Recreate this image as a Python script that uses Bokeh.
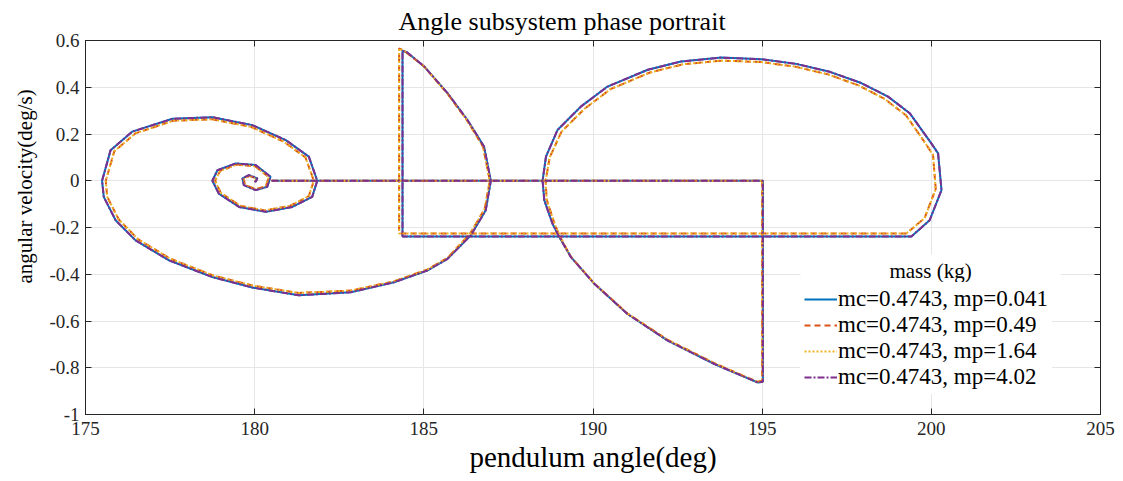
from bokeh.plotting import figure
from bokeh.models import (Range1d, LinearAxis, FixedTicker, Legend, LegendItem,
                          Title, CustomJSTickFormatter, Label, BoxAnnotation)
from bokeh.embed import file_html
from bokeh.resources import INLINE

# ---------------- data ----------------
x_ticks = [175, 180, 185, 190, 195, 200, 205]
x_tick_labels = ["175", "180", "185", "190", "195", "200", "205"]
y_ticks = [0.6, 0.4, 0.2, 0.0, -0.2, -0.4, -0.6, -0.8, -1.0]
y_tick_labels = ["0.6", "0.4", "0.2", "0", "-0.2", "-0.4", "-0.6", "-0.8", "-1"]

# trajectory for light / heavy pendulum groups (angle in deg, angular velocity in deg/s)
angle_a = [180.5, 195.02, 195.02, 194.87, 193.59, 192.21, 191.02, 190.04, 189.35, 189.0,
           188.8, 188.56, 188.51, 188.61, 188.95, 189.64, 190.43, 191.62, 192.6, 193.79,
           194.97, 196.0, 197.0, 197.93, 198.72, 199.36, 200.0, 200.2, 200.3, 199.95,
           199.41, 184.37, 184.37, 184.5, 185.01, 185.7, 186.29, 186.78, 186.98, 186.83,
           186.39, 185.7, 185.1, 184.12, 182.84, 181.3, 179.93, 178.75, 177.46, 176.48,
           175.89, 175.54, 175.49, 175.74, 176.38, 177.57, 178.75, 179.93, 180.92, 181.6,
           181.85, 181.7, 181.11, 180.33, 179.54, 178.94, 178.75, 178.9, 179.44, 180.03,
           180.47, 180.37, 180.03, 179.68, 179.64, 179.83, 180.08, 180.03, 180.0]
vel_a = [0.0, 0.0, -0.86, -0.863, -0.784, -0.684, -0.57, -0.441, -0.327, -0.24,
         -0.183, -0.083, 0.0, 0.103, 0.217, 0.317, 0.403, 0.475, 0.51, 0.527,
         0.52, 0.5, 0.466, 0.418, 0.36, 0.289, 0.16, 0.117, -0.04, -0.169,
         -0.238, -0.238, 0.556, 0.55, 0.489, 0.375, 0.26, 0.146, 0.0, -0.126,
         -0.233, -0.334, -0.384, -0.434, -0.477, -0.49, -0.457, -0.412, -0.34, -0.255,
         -0.169, -0.069, 0.0, 0.13, 0.21, 0.265, 0.272, 0.238, 0.174, 0.103,
         0.0, -0.069, -0.112, -0.133, -0.112, -0.055, 0.0, 0.045, 0.074, 0.067,
         0.017, -0.026, -0.04, -0.019, 0.01, 0.024, 0.01, -0.004, 0.0]

angle_b = [180.5, 195.0, 195.0, 194.85, 193.58, 192.2, 191.0, 190.02, 189.33, 188.98,
           188.85, 188.63, 188.6, 188.72, 189.07, 189.75, 190.52, 191.68, 192.65, 193.8,
           194.95, 195.95, 196.95, 197.85, 198.62, 199.25, 199.85, 200.05, 200.13, 199.8,
           199.26, 184.27, 184.27, 184.42, 185.0, 185.68, 186.27, 186.75, 186.95, 186.8,
           186.37, 185.7, 185.1, 184.12, 182.84, 181.3, 179.93, 178.75, 177.5, 176.55,
           175.98, 175.64, 175.6, 175.85, 176.48, 177.6, 178.75, 179.9, 180.85, 181.5,
           181.75, 181.6, 181.05, 180.3, 179.57, 179.0, 178.83, 178.98, 179.47, 180.01,
           180.42, 180.33, 180.02, 179.71, 179.68, 179.85, 180.06, 180.02, 180.0]
vel_b = [0.0, 0.0, -0.855, -0.86, -0.78, -0.68, -0.566, -0.437, -0.322, -0.226,
         -0.178, -0.08, 0.0, 0.1, 0.21, 0.308, 0.392, 0.463, 0.498, 0.514,
         0.508, 0.489, 0.455, 0.408, 0.35, 0.28, 0.155, 0.11, -0.035, -0.16,
         -0.226, -0.226, 0.566, 0.556, 0.49, 0.376, 0.26, 0.146, 0.0, -0.12,
         -0.226, -0.33, -0.38, -0.43, -0.47, -0.48, -0.448, -0.404, -0.333, -0.25,
         -0.165, -0.068, 0.0, 0.126, 0.203, 0.257, 0.263, 0.23, 0.168, 0.1,
         0.0, -0.066, -0.107, -0.127, -0.107, -0.052, 0.0, 0.042, 0.069, 0.062,
         0.016, -0.024, -0.036, -0.017, 0.009, 0.021, 0.008, -0.003, 0.0]

series_labels = ["mc=0.4743, mp=0.041", "mc=0.4743, mp=0.49",
                 "mc=0.4743, mp=1.64", "mc=0.4743, mp=4.02"]
series_angle = [angle_a, angle_b, angle_b, angle_a]
series_vel = [vel_a, vel_b, vel_b, vel_a]
legend_title = "mass (kg)"

# ---------------- styles ----------------
colors = ["#0072BD", "#D95319", "#EDB120", "#7E2F8E"]
dashes = ["solid", "6 4", "2 2", "7 2 2 2"]
widths = [2.0, 2.0, 2.0, 2.0]

AX = "#262626"
SERIF = "Liberation Serif"

p = figure(width=1123, height=481, output_backend="svg", toolbar_location=None,
           x_range=Range1d(175, 205), y_range=Range1d(-1, 0.6),
           min_border_left=85, min_border_right=23, min_border_top=40,
           min_border_bottom=67, background_fill_color="white",
           border_fill_color="white", title=None)

p.outline_line_color = AX
p.outline_line_width = 1

for ax, ticks, labels in [(p.xaxis[0], x_ticks, x_tick_labels),
                          (p.yaxis[0], y_ticks, y_tick_labels)]:
    ax.ticker = FixedTicker(ticks=ticks)
    ax.major_label_overrides = {t: l for t, l in zip(ticks, labels)}
    ax.minor_tick_line_color = None
    ax.major_tick_in = 6
    ax.major_tick_out = 0
    ax.axis_line_color = AX
    ax.major_tick_line_color = AX
    ax.major_label_text_font = SERIF
    ax.major_label_text_font_size = "19px"
    ax.major_label_text_color = AX

p.xaxis[0].major_label_standoff = 7
p.yaxis[0].major_label_standoff = 6

p.xaxis[0].axis_label = "pendulum angle(deg)"
p.xaxis[0].axis_label_text_font = SERIF
p.xaxis[0].axis_label_text_font_size = "29px"
p.xaxis[0].axis_label_text_font_style = "normal"
p.xaxis[0].axis_label_text_color = "black"
p.xaxis[0].axis_label_standoff = 3

# top and right axes (ticks only)
empty = CustomJSTickFormatter(code="return ''")
top = LinearAxis(ticker=FixedTicker(ticks=x_ticks), formatter=empty,
                 major_tick_in=6, major_tick_out=0, minor_tick_line_color=None,
                 axis_line_color=AX, major_tick_line_color=AX,
                 major_label_text_font_size="0px", major_label_standoff=0,
                 axis_label_standoff=0)
right = LinearAxis(ticker=FixedTicker(ticks=y_ticks), formatter=empty,
                   major_tick_in=6, major_tick_out=0, minor_tick_line_color=None,
                   axis_line_color=AX, major_tick_line_color=AX,
                   major_label_text_font_size="0px", major_label_standoff=0,
                   axis_label_standoff=0)
p.add_layout(top, "above")
p.add_layout(right, "right")

p.xgrid.ticker = FixedTicker(ticks=x_ticks)
p.ygrid.ticker = FixedTicker(ticks=y_ticks)
p.grid.grid_line_color = "#e6e6e6"
p.grid.grid_line_width = 1

# title and y label
p.add_layout(Title(text="Angle subsystem phase portrait", text_font=SERIF,
                   text_font_size="26px", text_font_style="normal",
                   text_color="black", align="left", offset=313, standoff=9), "above")
p.add_layout(Title(text="angular velocity(deg/s)", text_font=SERIF,
                   text_font_size="21px", text_font_style="normal",
                   text_color="black", align="left", offset=131, standoff=19), "left")

renderers = []
for xs, ys, c, d, w in zip(series_angle, series_vel, colors, dashes, widths):
    r = p.line(xs, ys, line_color=c, line_dash=d, line_width=w)
    renderers.append(r)

legend = Legend(items=[LegendItem(label=l, renderers=[r])
                       for l, r in zip(series_labels, renderers)],
                location=(715, 20))
legend.label_text_font = SERIF
legend.label_text_font_size = "23px"
legend.label_text_color = "black"
legend.border_line_alpha = 0
legend.background_fill_alpha = 1
legend.glyph_width = 33
legend.glyph_height = 20
legend.label_standoff = 1
legend.spacing = 0
legend.padding = 4
legend.margin = 0
legend.label_height = 20
p.add_layout(legend, "center")

# white band above the legend entries holding the legend title
p.add_layout(BoxAnnotation(left=715, right=975, bottom=128, top=160,
                           left_units="screen", right_units="screen",
                           bottom_units="screen", top_units="screen",
                           fill_color="white", fill_alpha=1.0, line_alpha=0,
                           level="overlay"))
p.add_layout(Label(x=845, y=144, x_units="screen", y_units="screen",
                   text=legend_title, text_font=SERIF, text_font_size="21px",
                   text_color="black", text_align="center",
                   text_baseline="middle", level="overlay"))

open("out.html", "w").write(file_html(p, INLINE))
